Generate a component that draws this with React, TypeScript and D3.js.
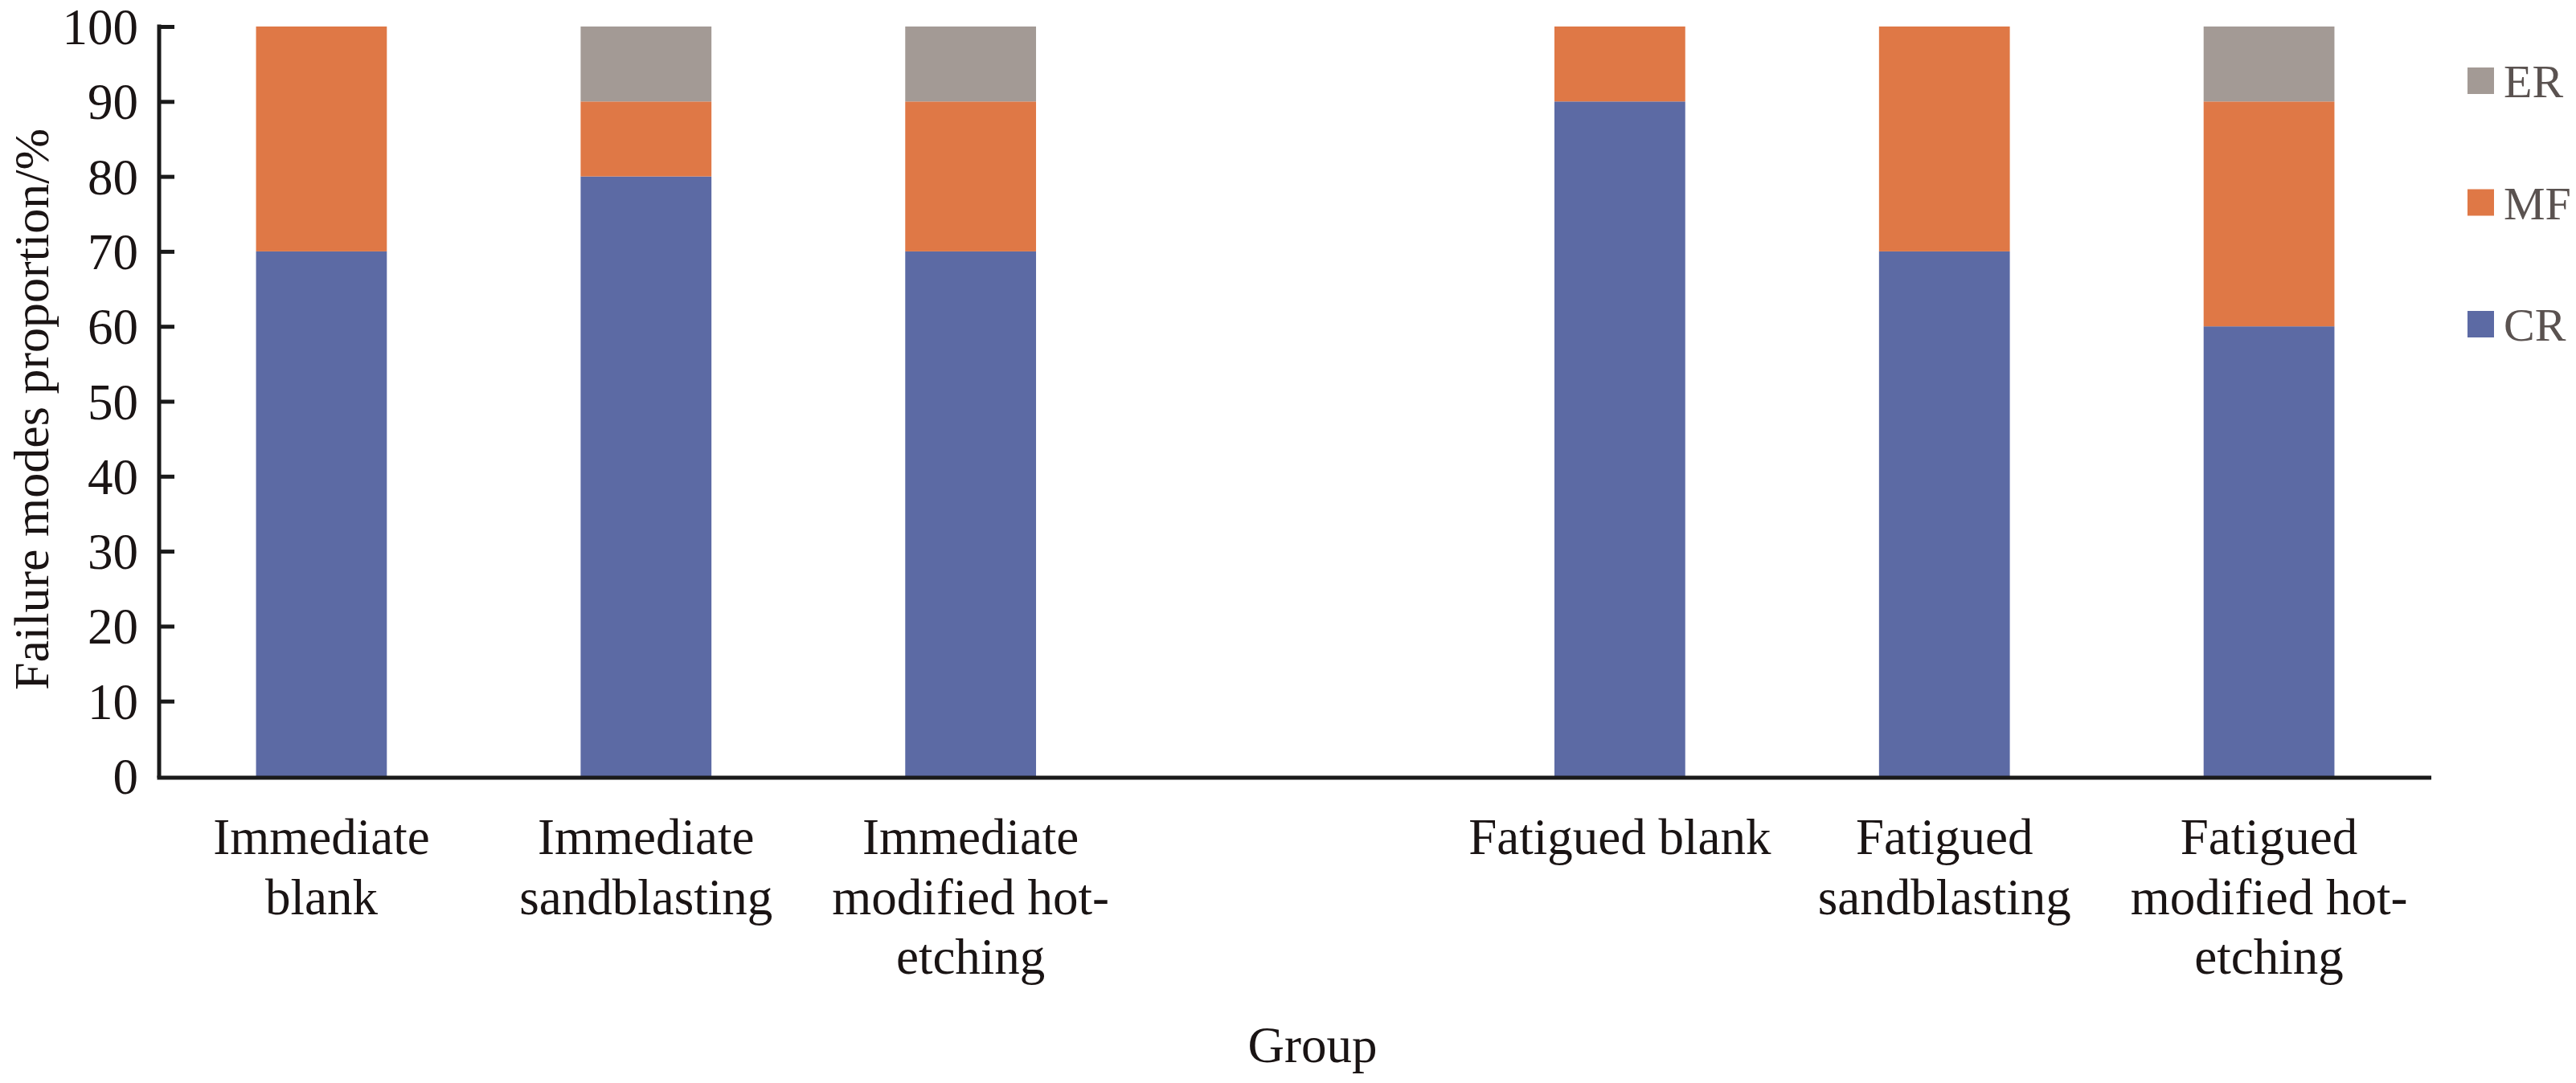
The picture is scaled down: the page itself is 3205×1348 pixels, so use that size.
import { useEffect, useRef } from 'react'
import * as d3 from 'd3'

const groups = [
  'Immediate blank',
  'Immediate sandblasting',
  'Immediate modified hot-etching',
  'Fatigued blank',
  'Fatigued sandblasting',
  'Fatigued modified hot-etching',
]
// tick label lines as printed under each bar
const groupLines = [
  ['Immediate', 'blank'],
  ['Immediate', 'sandblasting'],
  ['Immediate', 'modified hot-', 'etching'],
  ['Fatigued blank'],
  ['Fatigued', 'sandblasting'],
  ['Fatigued', 'modified hot-', 'etching'],
]
const modes = ['CR', 'MF', 'ER']
const crValues = [70, 80, 70, 90, 70, 60]
const mfValues = [30, 10, 20, 10, 30, 30]
const erValues = [0, 10, 10, 0, 0, 10]
const yTicks = [0, 10, 20, 30, 40, 50, 60, 70, 80, 90, 100]
const legendOrder = ['ER', 'MF', 'CR']

const colors: Record<string, string> = { CR: '#5c6aa4', MF: '#df7846', ER: '#a39a95' }
const FONT = '"Liberation Serif", "Times New Roman", serif'

export default function App() {
  const svgRef = useRef<SVGSVGElement>(null)

  useEffect(() => {
    if (!svgRef.current) return
    const svg = d3.select(svgRef.current)
    svg.selectAll('*').remove()

    const left = 198, right = 3025, top = 33, bottom = 966

    // empty slot between the immediate and fatigued groups
    const slots = [...groups.slice(0, 3), '__gap__', ...groups.slice(3)]
    const x = d3.scaleBand().domain(slots).range([left, right]).paddingInner(0.597).paddingOuter(0.2985)
    const y = d3.scaleLinear().domain([0, 100]).range([bottom, top])

    const rows = groups.map((g, i) => ({ group: g, CR: crValues[i], MF: mfValues[i], ER: erValues[i] }))
    const series = d3.stack<any>().keys(modes)(rows)

    svg.append('g').selectAll('g').data(series).join('g')
      .attr('fill', d => colors[d.key])
      .selectAll('rect').data(d => d).join('rect')
      .attr('x', d => x(d.data.group)!)
      .attr('width', x.bandwidth())
      .attr('y', d => y(d[1]))
      .attr('height', d => y(d[0]) - y(d[1]))

    // y axis
    const yAxis = svg.append('g').attr('transform', `translate(${left},0)`)
      .call(d3.axisRight(y).tickValues(yTicks.slice(1)).tickSize(19).tickFormat(() => ''))
    yAxis.select('.domain').remove()
    yAxis.selectAll('line').attr('stroke', '#1a1a1a').attr('stroke-width', 5)
    svg.append('line').attr('x1', left).attr('x2', left).attr('y1', top - 2.5).attr('y2', bottom + 2)
      .attr('stroke', '#1a1a1a').attr('stroke-width', 5)
    svg.append('g').selectAll('text').data(yTicks).join('text')
      .attr('x', left - 26).attr('y', d => y(d)).attr('dy', '0.35em')
      .attr('text-anchor', 'end').attr('font-family', FONT).attr('font-size', 63).attr('fill', '#1a1414')
      .text(d => d)

    // x axis
    svg.append('line').attr('x1', left - 2.5).attr('x2', right).attr('y1', bottom + 2).attr('y2', bottom + 2)
      .attr('stroke', '#1a1a1a').attr('stroke-width', 5)
    const labels = svg.append('g').selectAll('text').data(groups).join('text')
      .attr('x', d => x(d)! + x.bandwidth() / 2)
      .attr('y', 1063)
      .attr('text-anchor', 'middle').attr('font-family', FONT).attr('font-size', 63).attr('fill', '#1a1414')
    labels.selectAll('tspan').data((_, i) => groupLines[i]).join('tspan')
      .attr('x', function () { return (this.parentNode as SVGTextElement).getAttribute('x') })
      .attr('dy', (_, i) => (i === 0 ? 0 : 74.5))
      .text(d => d)

    svg.append('text').attr('x', 1633).attr('y', 1322).attr('text-anchor', 'middle')
      .attr('font-family', FONT).attr('font-size', 63).attr('fill', '#1a1414').text('Group')

    svg.append('text').attr('transform', `translate(60,${(top + bottom) / 2 + 10}) rotate(-90)`)
      .attr('text-anchor', 'middle').attr('font-family', FONT).attr('font-size', 62).attr('fill', '#1a1414')
      .text('Failure modes proportion/%')

    // legend
    const legend = svg.append('g').selectAll('g').data(legendOrder).join('g')
      .attr('transform', (_, i) => `translate(3070,${84 + i * 151.5})`)
    legend.append('rect').attr('width', 33).attr('height', 33).attr('fill', d => colors[d])
    legend.append('text').attr('x', 45).attr('y', 37).attr('font-family', FONT).attr('font-size', 58)
      .attr('fill', '#5a5250').text(d => d)
  }, [])

  return (
    <svg ref={svgRef} width={3205} height={1348} viewBox="0 0 3205 1348"
      style={{ position: 'absolute', left: 0, top: 0, background: '#fff' }} />
  )
}
